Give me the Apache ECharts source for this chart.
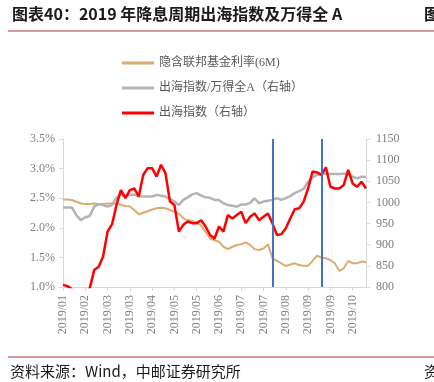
<!DOCTYPE html>
<html><head><meta charset="utf-8">
<script src="https://cdn.jsdelivr.net/npm/echarts@6/dist/echarts.min.js"></script>
<style>html,body{margin:0;padding:0;background:#fff}#c{width:434px;height:382px}</style>
</head><body><div id="c"></div>
<script>
const tickLabels = ['2019/01','2019/02','2019/03','2019/03','2019/04','2019/05','2019/05','2019/06','2019/07','2019/07','2019/08','2019/09','2019/09','2019/10'];
const pointsPerTick = 5;
const pointCount = 69;
const categories = [];
tickLabels.forEach((t, k) => { for (let j = 0; j < pointsPerTick; j++) categories.push(t + ' ' + k + '.' + j); });
categories.length = pointCount;

const seriesNames = ['隐含联邦基金利率(6M)', '出海指数/万得全A（右轴）', '出海指数（右轴）'];
const fedRate = [2.48,2.48,2.47,2.44,2.41,2.40,2.40,2.41,2.40,2.40,2.41,2.41,2.41,2.385,2.37,2.36,2.30,2.23,2.255,2.28,2.31,2.33,2.34,2.33,2.30,2.27,2.24,2.16,2.13,2.115,2.09,2.035,1.93,1.82,1.79,1.765,1.68,1.64,1.68,1.71,1.72,1.755,1.71,1.64,1.625,1.65,1.72,1.485,1.44,1.40,1.355,1.38,1.40,1.37,1.36,1.36,1.44,1.53,1.495,1.485,1.456,1.40,1.27,1.315,1.44,1.40,1.40,1.43,1.42];
const ratioIdx = [988,988,988,970,958,965,968,990,996,994,990,994,1011,1019,1014,1018,1019,1014,1014,1014,1014,1018,1016,1014,1008,1002,994,1006,1012,1019,1022,1016,1012,1011,1006,1006,998,994,992,990,995,995,999,1010,998,1002,1004,1006,1010,1006,1010,1015,1022,1027,1032,1049,1059,1065,1067,1068,1067,1067,1067,1068,1068,1061,1057,1061,1060];
const overseasIdx = [805,802,795,785,780,785,797,840,848,872,931,948,994,1029,1010,1029,1033,1014,1065,1081,1081,1061,1089,1069,1002,994,931,947,955,951,951,958,943,923,914,943,931,970,962,970,978,951,966,974,958,966,974,951,923,925,939,962,984,986,1002,1033,1073,1071,1065,1083,1037,1033,1033,1041,1077,1045,1037,1049,1033];
const cutEvents = [47, 58];

const serif = '"Liberation Serif","Noto Sans CJK SC",serif';
const axisGrey = '#d9d9d9';
const labelGrey = '#7f7f7f';

const chart = echarts.init(document.getElementById('c'));
chart.setOption({
  backgroundColor: '#fff',
  animation: false,
  graphic: [
    { type: 'text', left: 12, top: 6, style: { text: '图表40：2019 年降息周期出海指数及万得全 A', font: 'bold 16px "Noto Sans CJK SC"', fill: '#1a1a1a' } },
    { type: 'text', left: 424, top: 6, style: { text: '图', font: 'bold 16px "Noto Sans CJK SC"', fill: '#1a1a1a' } },
    { type: 'rect', shape: { x: 8, y: 30, width: 426, height: 2 }, style: { fill: '#de9a9a' } },
    { type: 'rect', shape: { x: 8, y: 356, width: 426, height: 2 }, style: { fill: '#de9a9a' } },
    { type: 'text', left: 10, top: 364, style: { text: '资料来源：Wind，中邮证券研究所', font: '15px "Noto Sans CJK SC"', fill: '#1a1a1a' } },
    { type: 'text', left: 424, top: 364, style: { text: '资', font: '15px "Noto Sans CJK SC"', fill: '#1a1a1a' } }
  ],
  legend: {
    orient: 'vertical', left: 122, top: 56, padding: 0, itemWidth: 32, itemHeight: 3, itemGap: 11, icon: 'rect',
    textStyle: { fontFamily: serif, fontSize: 12, color: '#595959', lineHeight: 14, padding: [0, 0, 0, 0] },
    data: seriesNames
  },
  grid: { left: 63, right: 68, top: 139, bottom: 95 },
  xAxis: {
    type: 'category', data: categories, boundaryGap: false,
    axisLine: { lineStyle: { color: axisGrey } },
    axisTick: { interval: pointsPerTick - 1, length: 4, lineStyle: { color: axisGrey } },
    axisLabel: { interval: pointsPerTick - 1, rotate: 90, margin: 8, fontFamily: serif, fontSize: 12, color: labelGrey, formatter: (v) => v.split(' ')[0] },
    splitLine: { show: false }
  },
  yAxis: [
    { type: 'value', min: 1.0, max: 3.5, interval: 0.5, position: 'left',
      axisLine: { show: true, lineStyle: { color: axisGrey } },
      axisTick: { show: true, length: 4, lineStyle: { color: axisGrey } },
      axisLabel: { margin: 8, fontFamily: serif, fontSize: 12, color: labelGrey, formatter: (v) => v.toFixed(1) + '%' },
      splitLine: { show: false } },
    { type: 'value', min: 800, max: 1150, interval: 50, position: 'right',
      axisLine: { show: true, lineStyle: { color: axisGrey } },
      axisTick: { show: true, length: 4, lineStyle: { color: axisGrey } },
      axisLabel: { margin: 10, fontFamily: serif, fontSize: 12, color: labelGrey, formatter: (v) => String(v) },
      splitLine: { show: false } }
  ],
  series: [
    { name: seriesNames[0], type: 'line', yAxisIndex: 0, data: fedRate, symbol: 'none', color: '#dcab72', lineStyle: { width: 2, color: '#dcab72' } },
    { name: seriesNames[1], type: 'line', yAxisIndex: 1, data: ratioIdx, symbol: 'none', color: '#b4b4b4', lineStyle: { width: 2.5, color: '#b4b4b4' } },
    { name: seriesNames[2], type: 'line', yAxisIndex: 1, data: overseasIdx, symbol: 'none', color: '#ff0000', lineStyle: { width: 2.5, color: '#ff0000' }, clip: true,
      markLine: { silent: true, symbol: 'none', label: { show: false }, lineStyle: { color: '#4472c4', width: 2, type: 'solid' },
        data: cutEvents.map((i) => ({ xAxis: categories[i] })) } }
  ]
});
</script></body></html>
